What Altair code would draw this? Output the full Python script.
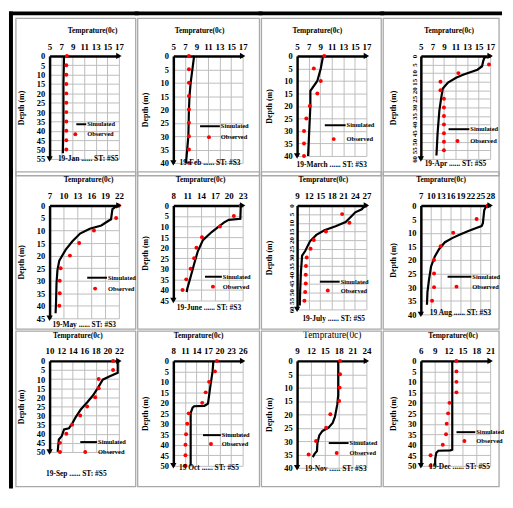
import altair as alt
import pandas as pd

FONT = "Liberation Serif"

# ---------------- data ----------------
months = ["19-Jan", "19-Feb", "19-March", "19-Apr", "19-May", "19-June",
          "19-July", "19 Aug", "19-Sep", "19 Oct", "19-Nov", "19-Dec"]
stations = ["#S5", "#S3", "#S3", "#S5", "#S3", "#S3",
            "#S5", "#S3", "#S5", "#S5", "#S3", "#S5"]
x_domains = [[5, 17], [5, 17], [5, 17], [5, 17], [7, 22], [8, 23],
             [9, 27], [7, 28], [10, 22], [8, 26], [9, 24], [6, 21]]
x_steps = [2, 2, 2, 2, 3, 3, 3, 3, 2, 3, 3, 3]
y_max = [55, 40, 40, 60, 45, 45, 60, 40, 50, 50, 40, 50]

jan_sim_t = [7.5, 7.4, 7.4, 7.3]
jan_sim_d = [0, 15, 35, 52]
jan_obs_t = [8.0, 7.9, 7.9, 7.9, 7.9, 7.9, 7.9, 7.9, 7.9, 7.9, 7.9]
jan_obs_d = [0, 5, 10, 15, 20, 25, 30, 35, 40, 45, 50]

feb_sim_t = [8.6, 8.3, 8.0, 7.8, 7.7, 7.6, 7.4, 7.2]
feb_sim_d = [0, 5, 10, 15, 20, 30, 35, 40]
feb_obs_t = [7.7, 7.7, 7.7, 7.7, 7.7, 7.7, 7.7, 7.7, 7.7]
feb_obs_d = [0, 5, 10, 15, 20, 25, 30, 35, 40]

mar_sim_t = [9.5, 9.1, 8.5, 7.3, 7.3, 7.1, 6.9]
mar_sim_d = [0, 5, 10, 14, 20, 30, 40]
mar_obs_t = [9.7, 7.9, 9.1, 8.5, 7.2, 6.6, 6.2, 6.2, 6.2]
mar_obs_d = [0, 5, 10, 15, 20, 25, 30, 35, 40]

apr_sim_t = [17.2, 16.0, 15.8, 15.6, 14.8, 12.3, 11.1, 9.7, 8.8, 8.5, 8.2, 7.9, 7.7]
apr_sim_d = [0, 1, 3, 6, 8, 11, 12.7, 15.5, 19, 25, 32, 45, 58]
apr_obs_t = [16.8, 16.8, 11.5, 8.4, 8.4, 9.0, 9.0, 9.0, 9.0, 9.0, 9.0, 9.0]
apr_obs_d = [0, 5, 10, 15, 20, 25, 30, 35, 40, 45, 50, 55]

may_sim_t = [21.7, 20.6, 20.3, 19.6, 18.2, 15.7, 13.6, 11.9, 10.5, 9.1, 8.7, 8.5, 8.4, 8.3]
may_sim_d = [0, 1.5, 5.5, 6.3, 8, 9.3, 11.2, 14.4, 17.6, 22, 25.9, 31, 38.6, 43]
may_obs_t = [22.0, 21.4, 16.6, 13.4, 11.4, 9.4, 9.2, 9.2, 9.1]
may_obs_d = [0, 5, 10, 15, 20, 25, 30, 35, 40]

jun_sim_t = [22.6, 22.5, 20.0, 19.0, 18.1, 16.3, 14.4, 13.3, 12.5, 11.75, 11.0, 10.9]
jun_sim_d = [0, 6.3, 6.8, 8, 9.5, 12.6, 16.4, 21.7, 27.7, 33.8, 39.5, 41]
jun_obs_t = [22.6, 21.1, 18.1, 14.2, 13.0, 12.5, 11.75, 10.8, 10.0]
jun_obs_d = [0, 5, 10, 15, 20, 25, 30, 35, 40]

jul_sim_t = [26.6, 25.8, 24.1, 22.8, 21.6, 19.0, 16.1, 14.0, 12.35, 11.1, 10.3, 10.0, 9.8, 9.7]
jul_sim_d = [0, 2.2, 4, 6.9, 9.6, 12, 14.3, 17, 20.7, 26.3, 29, 38.3, 49.4, 57.8]
jul_obs_t = [26.8, 20.7, 22.6, 16.5, 13.35, 12.5, 11.5, 11.3, 11.25, 11.25, 11.1, 10.9]
jul_obs_d = [0, 5, 10, 15, 20, 25, 30, 35, 40, 45, 50, 55]

aug_sim_t = [26.9, 26.2, 25.8, 25.4, 24.0, 21.4, 18.7, 16.5, 14.3, 12.6, 11.2, 10.1, 9.5, 9.0, 8.85]
aug_sim_d = [0, 1.8, 6.5, 7.6, 8.2, 9.4, 10.8, 12, 13.5, 15.9, 18.8, 22.4, 27, 31.8, 36.5]
aug_obs_t = [27.3, 23.9, 16.8, 13.0, 11.0, 11.0, 11.0, 10.4]
aug_obs_d = [0, 5, 10, 15, 20, 25, 30, 35]

sep_sim_t = [21.8, 21.8, 20.35, 19.2, 18.4, 17.5, 16.6, 15.4, 14.5, 13.9, 13.35, 12.5, 12.1, 11.6, 11.4]
sep_sim_d = [0, 6.5, 8.6, 10.3, 14.7, 19, 22.4, 26.7, 31, 34.5, 37, 37.6, 41.4, 43.1, 50]
sep_obs_t = [21.0, 21.0, 18.5, 18.5, 17.9, 16.5, 15.3, 13.9, 12.9, 11.8, 11.8]
sep_obs_d = [0, 5, 10, 15, 20, 25, 30, 35, 40, 45, 50]

oct_sim_t = [18.4, 18.2, 17.6, 17.0, 16.1, 13.4, 13.0, 12.5, 12.5]
oct_sim_d = [0, 4.9, 12.3, 20.4, 21.4, 21.6, 22.3, 24.9, 50]
oct_obs_t = [19.3, 18.8, 17.3, 16.4, 15.5, 12.0, 11.6, 11.3, 11.15, 11.15, 11.15]
oct_obs_d = [0, 5, 10, 15, 20, 25, 30, 35, 40, 45, 50]

nov_sim_t = [17.9, 17.9, 17.7, 17.2, 16.7, 15.8, 14.5, 13.8, 13.4, 13.3, 12.75, 12.4]
nov_sim_d = [0, 12.8, 16.3, 20.9, 23.2, 25, 26.2, 27.9, 30.8, 33.7, 34.9, 36.0]
nov_obs_t = [18.3, 18.3, 18.2, 18.1, 16.2, 15.3, 13.1, 11.5]
nov_obs_d = [0, 5, 10, 15, 20, 25, 30, 35]

dec_sim_t = [12.8, 12.8, 12.4, 9.8, 9.35, 9.1, 9.1]
dec_sim_d = [0, 42.3, 42.6, 42.8, 43.8, 46.8, 50]
dec_obs_t = [13.7, 13.7, 13.7, 13.7, 12.2, 11.9, 11.6, 11.45, 10.75, 8.1, 8.1]
dec_obs_d = [0, 5, 10, 15, 20, 25, 30, 35, 40, 45, 50]

sim_t = [jan_sim_t, feb_sim_t, mar_sim_t, apr_sim_t, may_sim_t, jun_sim_t,
         jul_sim_t, aug_sim_t, sep_sim_t, oct_sim_t, nov_sim_t, dec_sim_t]
sim_d = [jan_sim_d, feb_sim_d, mar_sim_d, apr_sim_d, may_sim_d, jun_sim_d,
         jul_sim_d, aug_sim_d, sep_sim_d, oct_sim_d, nov_sim_d, dec_sim_d]
obs_t = [jan_obs_t, feb_obs_t, mar_obs_t, apr_obs_t, may_obs_t, jun_obs_t,
         jul_obs_t, aug_obs_t, sep_obs_t, oct_obs_t, nov_obs_t, dec_obs_t]
obs_d = [jan_obs_d, feb_obs_d, mar_obs_d, apr_obs_d, may_obs_d, jun_obs_d,
         jul_obs_d, aug_obs_d, sep_obs_d, oct_obs_d, nov_obs_d, dec_obs_d]

# ---------------- layout (pixels) ----------------
W = 70
heights = [104, 108, 101, 104, 114, 96, 105, 110, 92, 106, 108, 106]
# legend: line x1, line x2, line y, dot x, dot y  (relative to plot)
legend = [(27, 37, 69, 26, 79), (27, 47, 71, 36, 82), (28, 49, 70, 37, 84), (28, 49, 74, 37, 86),
          (38, 58, 73, 46, 84), (32, 49, 72, 40, 82), (23, 43, 77, 31, 86), (27, 51, 72, 36, 82),
          (31, 48, 82, 36, 92), (30, 48, 75, 38, 84), (32, 52, 83, 40, 93), (36, 55, 72, 44, 81)]
caption_pos = [(39, 104), (37, 108), (35, 110), (35, 109), (35, 121), (36, 104),
               (37, 115), (40, 109), (27, 114), (36, 108), (39, 109), (39, 107)]
title_x = [43, 26, 20, 28, 39, 27, 26, 20, 28, 25, 35, 32]

COL_SP, ROW_SP = 55, 43
MAXH = max(heights)
L = [49, 49 + (W + COL_SP), 49 + 2 * (W + COL_SP), 49 + 3 * (W + COL_SP)]
T = [53, 53 + MAXH + ROW_SP, 53 + 2 * (MAXH + ROW_SP)]
CX0 = [15, 138, 263, 386]
CX1 = [136, 261, 384, 503]
CY0 = [15, 176, 337]
CY1 = [174, 335, 494]

one = pd.DataFrame({"a": [0]})


def panel(k):
    r, c = divmod(k, 4)
    H = heights[k]
    x0, x1 = x_domains[k]
    step = x_steps[k]
    xt = list(range(x0, x1 + 1, step))
    yt = list(range(0, y_max[k] + 1, 5))
    rotated = k in (3, 6)
    xs = alt.Scale(domain=[x0, x1], nice=False, zero=False)
    ys = alt.Scale(domain=[0, y_max[k]], reverse=True, nice=False, zero=False)
    xax = alt.Axis(orient="top", values=xt, title="Temprature(0c)", grid=True,
                   gridColor="#bdbdbd", gridWidth=1, ticks=False,
                   domainColor="black", domainWidth=2.5,
                   labelFont=FONT, labelFontWeight="bold", labelFontSize=9,
                   labelPadding=5, labelFlush=False, labelOverlap=False,
                   titleFont=FONT, titleFontWeight="normal" if k == 10 else "bold",
                   titleFontSize=9.5 if k == 10 else 7.5, titlePadding=8,
                   titleX=title_x[k], titleColor="black", labelColor="black")
    yax = alt.Axis(values=yt, title="Depth (m)", grid=True,
                   gridColor="#bdbdbd", gridWidth=1, ticks=False,
                   domainColor="black", domainWidth=2.5,
                   labelFont=FONT, labelFontWeight="bold",
                   labelFontSize=7 if rotated else 8.5,
                   labelAngle=270 if rotated else 0,
                   labelAlign="center" if rotated else "right",
                   labelBaseline="bottom" if rotated else "middle",
                   labelPadding=5 if not rotated else 3, labelFlush=False, labelOverlap=False,
                   minExtent=16, maxExtent=16,
                   titleFont=FONT, titleFontWeight="bold", titleFontSize=8,
                   titlePadding=8, titleColor="black", labelColor="black")

    sim = pd.DataFrame({"t": sim_t[k], "d": sim_d[k], "i": list(range(len(sim_t[k])))})
    obs = pd.DataFrame({"t": obs_t[k], "d": obs_d[k]})
    arr_r = pd.DataFrame({"t": [x1], "d": [0]})
    arr_d = pd.DataFrame({"t": [x0], "d": [y_max[k]]})

    X = alt.X("t:Q", scale=xs, axis=xax)
    Y = alt.Y("d:Q", scale=ys, axis=yax)

    layers = []
    layers.append(alt.Chart(sim).mark_line(color="black", strokeWidth=2.2).encode(
        x=X, y=Y, order="i:Q"))
    layers.append(alt.Chart(obs).mark_circle(color="#ff0000", size=16, opacity=1).encode(
        x=X, y=Y))
    layers.append(alt.Chart(arr_r).mark_point(shape="triangle-right", filled=True, color="black",
                                              size=40, opacity=1).encode(x=X, y=Y))
    layers.append(alt.Chart(arr_d).mark_point(shape="triangle-down", filled=True, color="black",
                                              size=40, opacity=1).encode(x=X, y=Y))

    # cell border
    layers.append(alt.Chart(one).mark_rect(fillOpacity=0, stroke="#a8a8a8", strokeWidth=1.3).encode(
        x=alt.value(CX0[c] - L[c]), x2=alt.value(CX1[c] - L[c]),
        y=alt.value(CY0[r] - T[r]), y2=alt.value(CY1[r] - T[r])))
    if r == 0:
        layers.append(alt.Chart(one).mark_rect(color="black", opacity=1).encode(
            x=alt.value(8 - L[c] if c == 0 else CX0[c] - L[c] - 3), x2=alt.value(CX1[c] - L[c] + 3),
            y=alt.value(8 - T[0]), y2=alt.value(12 - T[0])))
    if c == 0:
        layers.append(alt.Chart(one).mark_rect(color="black", opacity=1).encode(
            x=alt.value(8 - L[0]), x2=alt.value(12 - L[0]),
            y=alt.value(8 - T[r] if r == 0 else CY0[r] - T[r] - 3), y2=alt.value(CY1[r] - T[r] + 2)))

    lx1, lx2, ly, dx, dy = legend[k]
    layers.append(alt.Chart(one).mark_rule(color="black", strokeWidth=2).encode(
        x=alt.value(lx1), x2=alt.value(lx2), y=alt.value(ly)))
    layers.append(alt.Chart(one).mark_text(text="Simulated", align="left", baseline="middle",
                                           font=FONT, fontWeight="bold", fontSize=6.5,
                                           color="black").encode(
        x=alt.value(lx2 + 1), y=alt.value(ly)))
    layers.append(alt.Chart(one).mark_circle(color="#ff0000", size=16, opacity=1).encode(
        x=alt.value(dx), y=alt.value(dy)))
    layers.append(alt.Chart(one).mark_text(text="Observed", align="left", baseline="middle",
                                           font=FONT, fontWeight="bold", fontSize=6.5,
                                           color="black").encode(
        x=alt.value(lx2 + 1), y=alt.value(dy)))
    cx, cy = caption_pos[k]
    layers.append(alt.Chart(one).mark_text(text=f"{months[k]} ...... ST: {stations[k]}",
                                           align="center", baseline="middle",
                                           font=FONT, fontWeight="bold", fontSize=7.5,
                                           color="black").encode(
        x=alt.value(cx), y=alt.value(cy)))

    return alt.layer(*layers).properties(width=W, height=H)


charts = [panel(k) for k in range(12)]
chart = alt.concat(*charts, columns=4, bounds="flush",
                   spacing={"row": ROW_SP, "column": COL_SP}).properties(
    padding=0, background="white"
).configure_view(stroke="transparent")

chart.save("out.html", embed_options={"renderer": "svg", "actions": False})
